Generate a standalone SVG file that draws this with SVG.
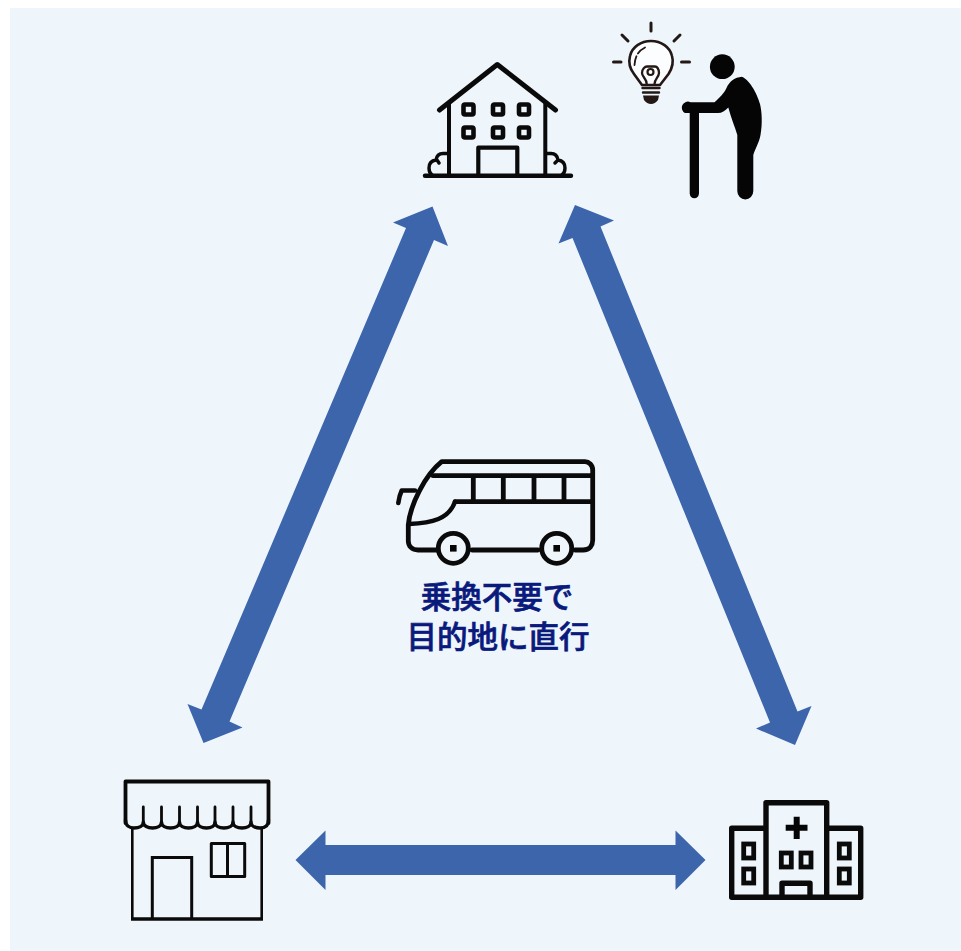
<svg xmlns="http://www.w3.org/2000/svg" width="961" height="951" viewBox="0 0 961 951">
<style>
.ln{fill:none;stroke:#0a0a0a;stroke-linejoin:round;stroke-linecap:round}
.k{fill:#050505}
.arrow{fill:#3c65ac}
.b{fill:none;stroke:#231815;stroke-linecap:round;stroke-linejoin:round}
.label{font-family:"Noto Sans CJK JP","Liberation Sans",sans-serif;font-weight:500;font-size:30.5px;fill:#0a1a7c;stroke:#0a1a7c;stroke-width:.7px;text-anchor:middle}
</style>
<rect width="961" height="951" fill="#fff"/>
<rect x="10" y="8" width="951" height="943" fill="#eef5fb"/>
<g id="connectors">
<polygon class="arrow" points="432.5,206.5 448,246 434,240 229.5,721.5 242.5,727.5 203.5,743 187.5,704 201.5,709.5 406,228 393,222.5"/>
<polygon class="arrow" points="575,205 614,220.5 600.5,226.5 797.5,711.5 811.5,706 795,745 756,728.5 770,722.5 572.5,238 558.5,243.5"/>
<polygon class="arrow" points="295.5,860 325.5,830.5 325.5,845 675.5,845 675.5,830.5 705.5,860 675.5,890 675.5,875 325.5,875 325.5,890"/>
</g>
<g id="home">
<path class="ln" stroke-width="4.4" d="M425 175.7H571"/>
<path class="ln" stroke-width="5" d="M439.5 110L497.3 64.5L555.5 110"/>
<path class="ln" stroke-width="4" d="M449 104V175M545.3 104V175"/>
<path class="ln" stroke-width="4.2" d="M478.3 175V147.7H517.3V175"/>
<g class="ln" stroke-width="4.6">
<rect x="463.5" y="104.5" width="10" height="10" rx="1.5"/><rect x="493" y="104.5" width="10" height="10" rx="1.5"/><rect x="519" y="104.5" width="10" height="10" rx="1.5"/>
<rect x="463.5" y="127.5" width="10" height="10" rx="1.5"/><rect x="493" y="127.5" width="10" height="10" rx="1.5"/><rect x="519" y="127.5" width="10" height="10" rx="1.5"/>
</g>
<path class="ln" stroke-width="3.4" d="M447 153.5H443Q437 153.5 436 160Q429 161 429 168Q429 173 432 175M439 163L437 160M547 153.5H551Q557 153.5 558 160Q565 161 565 168Q565 173 562 175M555 163L558 160"/>
</g>
<g id="person">
<circle class="k" cx="722.3" cy="66.7" r="12.4"/>
<path class="k" d="M689.7 113V193.5A4.7 5.5 0 0 0 699 193.5V113H718C722 113 725 111 728.3 107.5C731 118 735 127 737.3 135V191A7.8 8.3 0 0 0 753.3 191V155C755 149 759 143 760.5 135C762.5 124 762 112 760 104C757 93 749 79 741.7 76.7C735 77.5 729.5 81 726.5 88C724.5 93 719 98 714.5 102.3H690.5A5.5 5.5 0 0 0 685 113Z"/>
</g>
<g id="idea">
<path class="b" stroke-width="3" d="M651 23V31M622 35L628 41M680 35L674 41M613.5 62H621M681.5 62H689.5"/>
<path d="M642 85L634 74C628.5 67 629 60 630 56C632 47 641 41 651 41C661 41 670 47 672 56C673.5 61 673 67 668.5 74L660 85Z" fill="#fbfdfe" stroke="#231815" stroke-width="2.6" stroke-linejoin="round"/>
<path class="b" stroke-width="1.8" stroke-dasharray="9 3 30" d="M634.5 65C635 57 638 51 645 47.5"/>
<path class="b" stroke-width="2.3" d="M646.7 84C647 79 642 77 642 73C642 69 645 66.5 647 66.5H655C657 66.5 659 69 659 73C659 77 654.5 79 654.5 84"/>
<circle class="b" cx="650.5" cy="72" r="3" stroke-width="2.2"/>
<path class="b" stroke-width="2.4" d="M642.5 88H659.5M643 92.5H659"/>
<path fill="#231815" d="M643 95.5H659L658 100Q655 104 651 104Q647 104 644 100Z"/>
</g>
<g id="bus">
<path class="ln" stroke-width="4.8" d="M418 550H438M472 550H538M575 550H583C590 550 592.7 545 592.7 540V470C592.7 465 589 461.7 585 461.7H441.7C425 475 410 505 408.3 525V541C408.3 546 412 550 418 550"/>
<path class="ln" stroke-width="4.8" d="M433 475.7H592.7M455 501.7H592.7M473.3 476V501.7M503.3 476V501.7M534 476V501.7M564 476V501.7"/>
<path class="ln" stroke-width="4.4" d="M409 524C432 523 449 519 455 501.7"/>
<path class="ln" stroke-width="4.6" d="M398.3 503C399 498 400 494 401.7 490.5H415"/>
<circle class="ln" cx="453.3" cy="548.3" r="15" stroke-width="4.8"/>
<circle class="ln" cx="556.7" cy="548.3" r="15" stroke-width="4.8"/>
<rect class="k" x="450" y="545" width="6.6" height="6.6"/>
<rect class="k" x="553.4" y="545" width="6.6" height="6.6"/>
</g>
<g id="caption">
<text class="label" x="497" y="608">乗換不要で</text>
<text class="label" x="498" y="648">目的地に直行</text>
</g>
<g id="shop">
<path class="ln" stroke-width="3.8" d="M125.5 823V781.5H268.5V823"/>
<path class="ln" stroke-width="3.4" d="M125.5 820C125.5 826 130 828 134 828C139 828 143.3 826 143.3 822C143.3 826 148 828 152.5 828C157 828 161.5 826 161.5 822C161.5 826 166 828 170.5 828C175 828 179.5 826 179.5 822C179.5 826 184 828 188.5 828C193 828 197.5 826 197.5 822C197.5 826 202 828 206.5 828C211 828 215 826 215 822C215 826 219.5 828 224 828C228.5 828 233 826 233 822C233 826 237.5 828 242 828C246.5 828 251 826 251 822C251 826 255.5 828 260 828C264.5 828 268.5 826 268.5 820"/>
<path class="ln" stroke-width="2.8" d="M143.3 807V822M161.5 807V822M179.5 807V822M197.5 807V822M215 807V822M233 807V822M251 807V822"/>
<path fill="none" stroke="#0a0a0a" stroke-width="2.6" d="M132.3 828V918.5M261.7 828V918.5"/>
<path fill="none" stroke="#0a0a0a" stroke-width="3.4" d="M131 919H263"/>
<path fill="none" stroke="#0a0a0a" stroke-width="3" d="M152.3 919V857.5H191.7V919"/>
<rect class="ln" x="211.3" y="843.5" width="33.4" height="33" stroke-width="3"/>
<path fill="none" stroke="#0a0a0a" stroke-width="3" d="M227.5 843.5V876.5"/>
</g>
<g id="hospital">
<path class="ln" stroke-width="5.4" d="M766 897V802.7H826.7V897M766 828.3H731.7V897.3H860.7V828.3H826.7"/>
<path class="ln" stroke-width="5.4" d="M782 897V883.3H810V897"/>
<path class="k" d="M793.7 816.7H799.7V824.7H807.5V830.7H799.7V839H793.7V830.7H785.7V824.7H793.7Z"/>
<g class="ln" stroke-width="4.8" style="stroke-linejoin:miter">
<rect x="743.7" y="844" width="10" height="14"/><rect x="743.7" y="869" width="10" height="14"/>
<rect x="839.3" y="844" width="10" height="14"/><rect x="839.3" y="869" width="10" height="14"/>
<rect x="781.3" y="853" width="10" height="14"/><rect x="801" y="853" width="10" height="14"/>
</g>
</g>
</svg>
